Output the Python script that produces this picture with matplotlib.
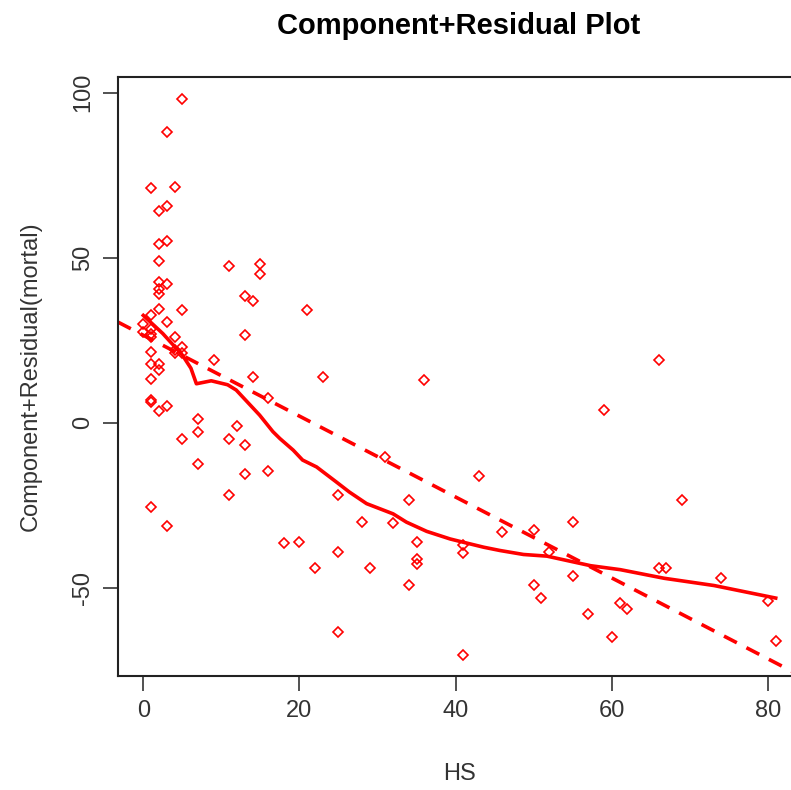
import matplotlib

matplotlib.use('Agg')
import matplotlib.pyplot as plt

plt.rcParams['font.family'] = ['Liberation Sans', 'DejaVu Sans']
plt.rcParams['axes.unicode_minus'] = False

# --- 데이터 ---
hs = [5, 3, 1, 4, 2, 3, 2, 3, 2, 11, 15, 15,
      2, 3, 2, 2, 13, 14, 2, 5, 1, 3, 0, 1, 0, 1, 1, 4, 5, 4, 4, 5, 1, 9,
      1, 2, 2, 1, 1, 1, 3, 2, 7, 12, 7, 5, 11, 13, 7, 13, 11, 1, 3,
      13, 21, 14, 23, 36, 16, 16, 31, 43, 25, 34, 28, 32, 46, 18, 20, 35,
      41, 41, 25, 35, 35, 22, 29, 34, 25, 41,
      66, 59, 69, 55, 50, 52, 66, 67, 55, 74, 50, 51, 80, 57, 61, 62, 60, 81]
resid = [98, 88, 71, 71.5, 64, 65.5, 54, 55, 49, 47.5, 48, 45,
         42.5, 42, 40.5, 39, 38.5, 37, 34.5, 34, 32.5, 30.5, 30, 28.5, 27.5, 27, 26, 26, 23, 22, 21, 21, 21.4, 19,
         17.7, 17.7, 16, 13.3, 7, 6.4, 5, 3.5, 1, -1, -2.7, -5, -5, -6.8, -12.4, -15.6, -21.8, -25.6, -31.3,
         26.5, 34, 13.7, 14, 13, 7.5, -14.5, -10.5, -16, -22, -23.5, -30, -30.5, -33, -36.5, -36, -36,
         -37, -39.5, -39, -41.4, -42.8, -44, -44, -49, -63.3, -70.3,
         19, 4, -23.5, -30, -32.5, -39, -44, -44, -46.5, -47, -49, -53, -54, -58, -54.5, -56.5, -65, -66]

# 회귀직선 (점선)
intercept = 26.5
slope = -1.225

# lowess 곡선 (실선)
smooth_x = [0, 2.5, 5, 6.1, 6.8, 8.7, 10.8, 11.9, 14.9, 16.6, 17.5, 19.2, 20.4, 22.2, 24.7, 26.4,
            28.6, 32, 33.7, 36.3, 39.3, 41, 43.6, 45.7, 48.7, 51.7, 57.3, 61.1, 66.7, 73.1, 81]
smooth_y = [32.5, 27, 20.5, 16.5, 11.8, 12.7, 11.5, 9.9, 2.3, -2.7, -4.8, -8.3, -11.3, -13.4, -17.9, -21,
            -24.5, -27.6, -30.1, -32.9, -35.2, -36.2, -37.7, -38.7, -39.9, -40.4, -43.3, -44.5, -47.1, -49.3, -53.1]

fig = plt.figure(figsize=(7.91, 7.90), dpi=100)
ax = fig.add_axes([118 / 791, 1 - 676 / 790, 683 / 791, 599 / 790])

ax.plot(hs, resid, linestyle='none', marker='D', markersize=5.5,
        markerfacecolor='none', markeredgecolor='red', markeredgewidth=1.2)
ax.axline((0, intercept), slope=slope, color='red', linestyle=(0, (4, 3)), linewidth=2.6)
ax.plot(smooth_x, smooth_y, color='red', linewidth=2.6)

ax.set_xlim(-3.24, 84.24)
ax.set_ylim(-76.7, 104.7)
ax.set_xticks([0, 20, 40, 60, 80])
ax.set_yticks([-50, 0, 50, 100])
ax.tick_params(direction='out', length=11, width=1.2, colors='#333333', labelsize=17)
ax.tick_params(axis='x', pad=6)
ax.tick_params(axis='y', pad=6)
for lab in ax.get_yticklabels():
    lab.set_rotation(90)
    lab.set_va('center')
for sp in ax.spines.values():
    sp.set_linewidth(1.5)
    sp.set_color('#222222')

ax.set_xlabel('HS', fontsize=17, color='#333333', labelpad=30)
ax.set_ylabel('Component+Residual(mortal)', fontsize=17, color='#333333', labelpad=22)
fig.text(459 / 791, 1 - 26 / 790, 'Component+Residual Plot', ha='center', va='center',
         fontsize=21, fontweight='bold')

plt.savefig('out.png', dpi=100)
plt.close()
